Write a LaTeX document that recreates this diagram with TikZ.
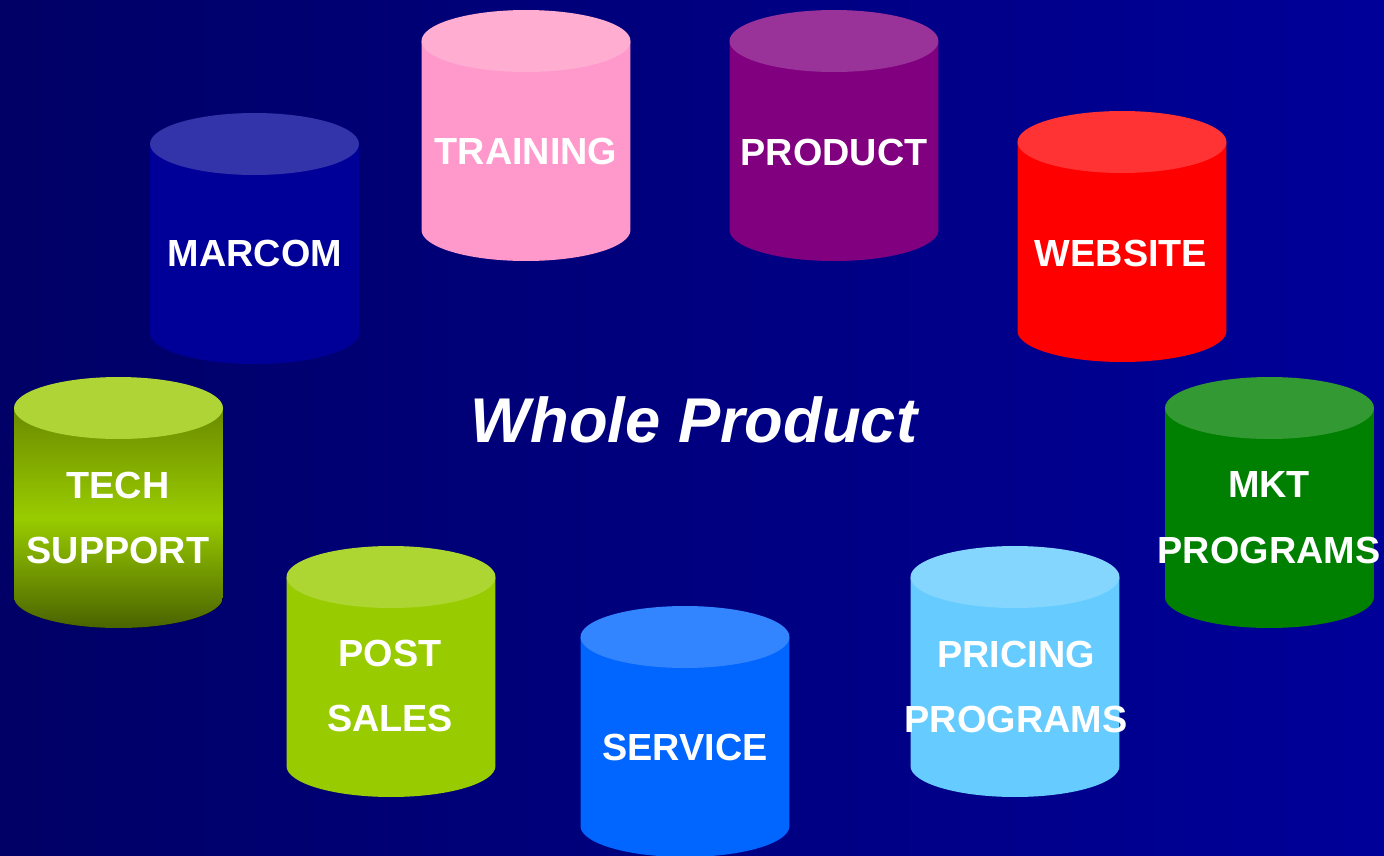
\documentclass[tikz,border=0pt]{standalone}
\usepackage{fontspec}
\setmainfont{Liberation Sans}

\definecolor{fondG}{HTML}{000066}
\definecolor{fondD}{HTML}{000099}
\definecolor{marcomC}{HTML}{000099}   \definecolor{marcomH}{HTML}{3333AA}
\definecolor{trainingC}{HTML}{FF99CC} \definecolor{trainingH}{HTML}{FFADD1}
\definecolor{productC}{HTML}{800080}  \definecolor{productH}{HTML}{993399}
\definecolor{websiteC}{HTML}{FF0000}  \definecolor{websiteH}{HTML}{FF3333}
\definecolor{techH}{HTML}{AED535}
\definecolor{techT}{HTML}{6B8A00} \definecolor{techM}{HTML}{99CC00} \definecolor{techB}{HTML}{4A6300}
\definecolor{mktC}{HTML}{008000}      \definecolor{mktH}{HTML}{339933}
\definecolor{postC}{HTML}{99CC00}     \definecolor{postH}{HTML}{ADD633}
\definecolor{serviceC}{HTML}{0066FF}  \definecolor{serviceH}{HTML}{3385FF}
\definecolor{pricingC}{HTML}{66CCFF}  \definecolor{pricingH}{HTML}{85D6FF}

% drum: centre x, lid centre y, body fill, lid fill
\newcommand{\drum}[4]{%
  \fill[#3] (#1-104.5,#2) -- ++(0,189)
    arc[start angle=180, end angle=360, x radius=2.09cm, y radius=0.62cm]
    -- ++(0,-189) -- cycle;
  \fill[#4] (#1,#2) ellipse[x radius=2.09cm, y radius=0.62cm];}

\begin{document}
\begin{tikzpicture}[x=0.02cm, y=-0.02cm]
	\tikzset{etiquette/.style={text=white, inner sep=0pt, align=center, font=\fontsize{21.5pt}{37.4pt}\selectfont\bfseries},
		titre/.style={text=white, inner sep=0pt, font=\fontsize{36pt}{40pt}\selectfont\bfseries\itshape}};

	\useasboundingbox (0,0) rectangle (1384,856);
	\shade[left color=fondG, right color=fondD] (0,0) rectangle (1384,856);

	\drum{254.5}{144}{marcomC}{marcomH}
	\drum{526}{41}{trainingC}{trainingH}
	\drum{834}{41}{productC}{productH}
	\drum{1122}{142}{websiteC}{websiteH}
	\drum{118.5}{408}{top color=techT, bottom color=techB, middle color=techM}{techH}
	\drum{1269.5}{408}{mktC}{mktH}
	\drum{391}{577}{postC}{postH}
	\drum{685}{637}{serviceC}{serviceH}
	\drum{1015}{577}{pricingC}{pricingH}

	\node[etiquette] (marcom)   at ( 255,  253) {MARCOM};
	\node[etiquette] (training) at ( 526,  151) {TRAINING};
	\node[etiquette] (product)  at ( 834,  152) {PRODUCT};
	\node[etiquette] (website)  at (1121,  253) {WEBSITE};
	\node[etiquette] (tech)     at ( 118,  518) {TECH\\SUPPORT};
	\node[etiquette] (mkt)      at (1269,  518) {MKT\\PROGRAMS};
	\node[etiquette] (post)     at ( 390,  686) {POST\\SALES};
	\node[etiquette] (service)  at ( 685,  747) {SERVICE};
	\node[etiquette] (pricing)  at (1016,  687) {PRICING\\PROGRAMS};

	\node[titre] (whole) at (694, 420) {Whole Product};
\end{tikzpicture}
\end{document}
